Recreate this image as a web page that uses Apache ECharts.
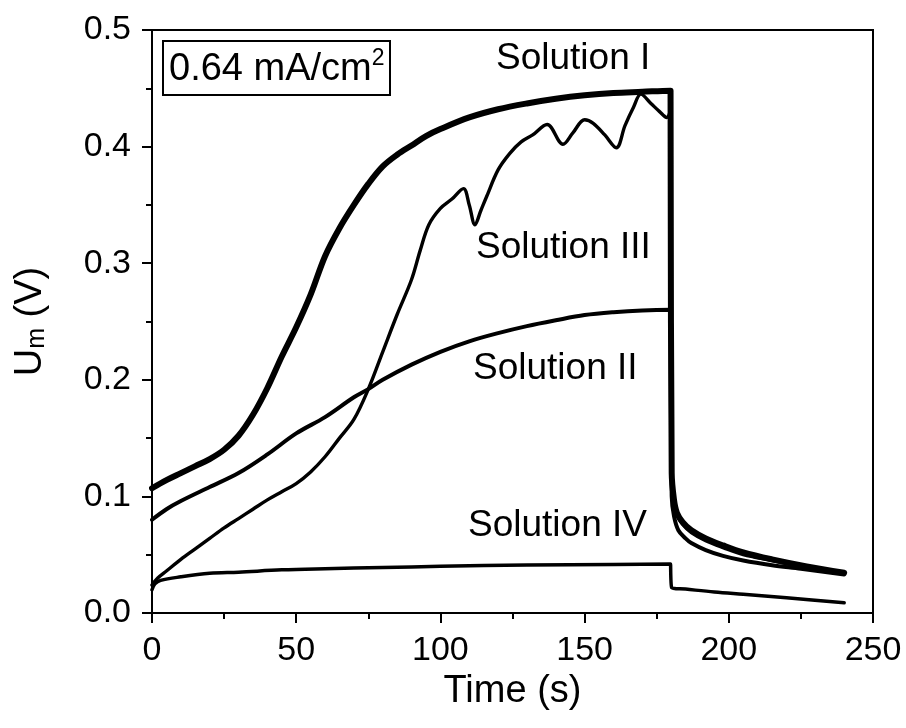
<!DOCTYPE html>
<html>
<head>
<meta charset="utf-8">
<script src="https://cdn.jsdelivr.net/npm/echarts@6/dist/echarts.min.js"></script>
<style>html,body{margin:0;padding:0;background:#fff}#c{width:906px;height:728px}</style>
</head>
<body>
<div id="c"></div>
<script>
// ---- data ----
var timeI = [0,5,10,15,20,25,30,35,40,45,50,55,60,65,70,75,80,85,90,95,100,110,120,130,140,150,160,170,179.8,180,180.2,181,182,184,187,192,198,205,215,227,240];
var valI  = [0.107,0.114,0.120,0.126,0.132,0.140,0.152,0.170,0.193,0.220,0.245,0.273,0.306,0.330,0.350,0.368,0.383,0.393,0.401,0.409,0.415,0.425,0.432,0.437,0.441,0.444,0.446,0.447,0.448,0.448,0.120,0.097,0.086,0.078,0.071,0.064,0.058,0.052,0.046,0.040,0.0345];

var timeII = [0,5,10,20,30,40,50,60,70,75,80,90,100,110,120,130,140,150,160,170,179.8,180,180.2,181,182.5,185,187,192,198,205,215,225,240];
var valII  = [0.080,0.089,0.096,0.108,0.120,0.136,0.154,0.168,0.185,0.192,0.200,0.213,0.224,0.233,0.240,0.246,0.251,0.2555,0.258,0.2595,0.260,0.260,0.100,0.083,0.071,0.064,0.060,0.054,0.049,0.045,0.041,0.038,0.033];

var timeIII = [0,2,5,10,15,20,25,30,35,40,45,50,55,60,65,70,75,80,85,90,93,96,100,104,108,110,112,114,116,120,124,128,132,137,142.5,146,150,153,157,161,164,167,169.5,173,176,178.5,179.9,180,180.2,181,182,184,187,192,198,205,215,227,240];
var valIII  = [0.024,0.030,0.036,0.046,0.055,0.064,0.073,0.081,0.089,0.097,0.104,0.111,0.121,0.134,0.150,0.166,0.192,0.224,0.256,0.286,0.311,0.333,0.347,0.355,0.364,0.350,0.333,0.345,0.357,0.380,0.394,0.404,0.410,0.419,0.402,0.412,0.423,0.420,0.410,0.399,0.418,0.434,0.445,0.437,0.430,0.425,0.431,0.432,0.120,0.095,0.084,0.076,0.069,0.062,0.056,0.050,0.045,0.039,0.034];

var timeIV = [0,1,3,10,20,30,45,60,80,100,130,160,179.8,180,180.2,185,195,205,220,240];
var valIV  = [0.020,0.025,0.028,0.031,0.034,0.035,0.037,0.038,0.039,0.040,0.0412,0.0416,0.042,0.042,0.0217,0.0205,0.018,0.016,0.013,0.0088];

var seriesNames = ['Solution I','Solution II','Solution III','Solution IV'];
var xTicks = [0,50,100,150,200,250];
var yTicks = [0.0,0.1,0.2,0.3,0.4,0.5];

function pairs(t, v){ var out=[]; for (var i=0;i<t.length;i++) out.push([t[i], v[i]]); return out; }

var FONT = "'Liberation Sans', Arial, sans-serif";
var chart = echarts.init(document.getElementById('c'), null, {renderer:'canvas'});

var lineWidths = [6, 4, 3.4, 3.5];
var allData = [pairs(timeI,valI), pairs(timeII,valII), pairs(timeIII,valIII), pairs(timeIV,valIV)];

var option = {
  backgroundColor: '#fff',
  animation: false,
  grid: { left: 152, right: 33, top: 30, bottom: 115, show: true, borderColor: '#000', borderWidth: 2, backgroundColor: 'transparent' },
  title: {
    text: '{a|0.64 mA/cm}{sup|2}',
    left: 163, top: 41,
    borderColor: '#000', borderWidth: 2,
    padding: [6, 6, 6, 6],
    textStyle: {
      fontWeight: 'normal',
      rich: {
        a: { fontFamily: FONT, fontSize: 38, fontWeight: 'normal', color: '#000', lineHeight: 42, verticalAlign: 'bottom' },
        sup: { fontFamily: FONT, fontSize: 23, fontWeight: 'normal', color: '#000', lineHeight: 22, verticalAlign: 'top' }
      }
    }
  },
  xAxis: {
    type: 'value', min: xTicks[0], max: xTicks[xTicks.length-1], interval: 50,
    name: 'Time (s)', nameLocation: 'middle', nameGap: 57,
    nameTextStyle: { fontFamily: FONT, fontSize: 38, color: '#000' },
    axisLine: { show: true, onZero: false, lineStyle: { color: '#000', width: 2 } },
    axisTick: { show: true, inside: false, length: 10, lineStyle: { color: '#000', width: 2 } },
    minorTick: { show: true, splitNumber: 2, length: 6, lineStyle: { color: '#000', width: 2 } },
    axisLabel: { fontFamily: FONT, fontSize: 34, color: '#000', margin: 21 },
    splitLine: { show: false }
  },
  yAxis: {
    type: 'value', min: yTicks[0], max: yTicks[yTicks.length-1], interval: 0.1,
    name: '{u|U}{sub|m}{u| (V)}', nameLocation: 'middle', nameGap: 102, nameRotate: 90,
    nameTextStyle: {
      rich: {
        u: { fontFamily: FONT, fontSize: 38, color: '#000', lineHeight: 44, verticalAlign: 'bottom' },
        sub: { fontFamily: FONT, fontSize: 25, color: '#000', lineHeight: 14, verticalAlign: 'bottom' }
      }
    },
    axisLine: { show: true, onZero: false, lineStyle: { color: '#000', width: 2 } },
    axisTick: { show: true, inside: false, length: 10, lineStyle: { color: '#000', width: 2 } },
    minorTick: { show: true, splitNumber: 2, length: 6, lineStyle: { color: '#000', width: 2 } },
    axisLabel: { fontFamily: FONT, fontSize: 34, color: '#000', margin: 21, formatter: function(v){ return v.toFixed(1); } },
    splitLine: { show: false }
  },
  series: allData.map(function(d, i){
    return {
      name: seriesNames[i], type: 'line', data: d, showSymbol: false, symbol: 'none',
      smooth: 0.35,
      lineStyle: { color: '#000', width: lineWidths[i], cap: 'round', join: 'round' },
      z: 3
    };
  }),
  graphic: [
    { type: 'text', left: 573 - 77, top: 61 - 21, style: { text: 'Solution I', fontFamily: FONT, fontSize: 37, fill: '#000' } },
    { type: 'text', left: 565 - 89, top: 250 - 21, style: { text: 'Solution III', fontFamily: FONT, fontSize: 37, fill: '#000' } },
    { type: 'text', left: 557 - 84, top: 371 - 21, style: { text: 'Solution II', fontFamily: FONT, fontSize: 37, fill: '#000' } },
    { type: 'text', left: 559 - 91, top: 528 - 21, style: { text: 'Solution IV', fontFamily: FONT, fontSize: 37, fill: '#000' } }
  ]
};
chart.setOption(option);
</script>
</body>
</html>
